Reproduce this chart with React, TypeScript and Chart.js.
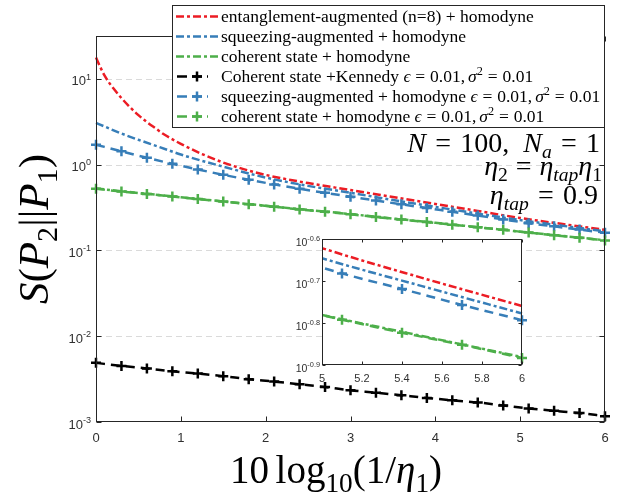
import React, { useEffect, useRef } from "react";
import { Chart, registerables } from "chart.js";
Chart.register(...registerables);

// ---------------- data ----------------
const MARK_X = [0, 0.3, 0.6, 0.9, 1.2, 1.5, 1.8, 2.1, 2.4, 2.7, 3.0, 3.3, 3.6, 3.9, 4.2, 4.5, 4.8, 5.1, 5.4, 5.7, 6.0];
const KENNEDY_Y = [0.00489, 0.00451, 0.00421, 0.00391, 0.00367, 0.00342, 0.00316, 0.00296, 0.00275, 0.00256, 0.00234, 0.0022, 0.00205, 0.00191, 0.00179, 0.00169, 0.00156, 0.00144, 0.00135, 0.00127, 0.00117];
const SQZ_NOISY_Y = [1.71, 1.429, 1.202, 1.023, 0.879, 0.762, 0.667, 0.589, 0.524, 0.469, 0.423, 0.382, 0.345, 0.312, 0.282, 0.255, 0.23, 0.208, 0.191, 0.175, 0.161];
const COH_NOISY_Y = [0.525, 0.486, 0.455, 0.426, 0.397, 0.371, 0.346, 0.323, 0.301, 0.282, 0.264, 0.245, 0.229, 0.214, 0.1995, 0.186, 0.174, 0.1614, 0.1503, 0.1406, 0.1309];

const ENT_X = [0, 0.05, 0.1, 0.15, 0.2, 0.3, 0.4, 0.5, 0.6, 0.7, 0.8, 1.0, 1.25, 1.5, 1.75, 2.0, 2.5, 3.0, 3.5, 4.0, 4.5, 5.0, 5.5, 6.0];
const ENT_Y = [17.74, 13.77, 10.96, 9.18, 7.87, 5.97, 4.68, 3.78, 3.14, 2.66, 2.26, 1.75, 1.33, 1.059, 0.881, 0.759, 0.61, 0.506, 0.419, 0.348, 0.289, 0.239, 0.203, 0.174];

const SQZ_X = [0, 0.1, 0.2, 0.3, 0.5, 0.75, 1.0, 1.5, 2.0, 2.5, 3.0, 3.5, 4.0, 4.5, 5.0, 5.5, 6.0];
const SQZ_Y = [3.069, 2.786, 2.529, 2.307, 1.95, 1.603, 1.312, 0.948, 0.708, 0.566, 0.47, 0.387, 0.322, 0.269, 0.226, 0.194, 0.167];

const COH_X = [0, 0.5, 1.0, 1.5, 2.0, 2.5, 3.0, 3.5, 4.0, 4.5, 5.0, 5.5, 6.0];
const COH_Y = [0.527, 0.4677, 0.418, 0.3724, 0.332, 0.2965, 0.2655, 0.2355, 0.21, 0.187, 0.1656, 0.1476, 0.1315];

const X_TICKS = [0, 1, 2, 3, 4, 5, 6];
const Y_TICK_EXP = [-3, -2, -1, 0, 1];
const INSET_X_TICKS = [5, 5.2, 5.4, 5.6, 5.8, 6];
const INSET_Y_EXP = [-0.9, -0.8, -0.7, -0.6];
const INSET_Y_LABELS = ["-0.9", "-0.8", "-0.7", "-0.6"];

const LEGEND_LABELS = [
  "entanglement-augmented (n=8) + homodyne",
  "squeezing-augmented + homodyne",
  "coherent state + homodyne",
  "Coherent state +Kennedy ",
  "squeezing-augmented + homodyne ",
  "coherent state + homodyne ",
];

// ---------------- style ----------------
const RED = "#ec1c24";
const BLUE = "#377eb8";
const GREEN = "#4daf4a";
const BLACK = "#000000";
const AX = "#262626";
const TICK_TXT = "#303030";
const SERIF = '"Liberation Serif", "DejaVu Serif", serif';
const SANS = '"Liberation Sans", Arial, sans-serif';
const DASHDOT = [8, 3, 3, 3];
const DASHED = [9, 6];
const LW = 2.5;

type Seg = { t?: string; it?: boolean; pos?: "sub" | "sup"; gap?: number };

function segFont(size: number, it: boolean | undefined, family: string) {
  return `${it ? "italic " : ""}${size}px ${family}`;
}
function richWidth(ctx: CanvasRenderingContext2D, segs: Seg[], size: number, family: string) {
  let w = 0;
  for (const s of segs) {
    if (s.gap) { w += s.gap * size; continue; }
    const fs = s.pos ? size * 0.7 : size;
    ctx.font = segFont(fs, s.it, family);
    w += ctx.measureText(s.t || "").width;
  }
  return w;
}
function drawRich(ctx: CanvasRenderingContext2D, segs: Seg[], x: number, y: number, size: number, family: string, align: "left" | "right" | "center", supK = 0.42) {
  const w = richWidth(ctx, segs, size, family);
  let cx = align === "left" ? x : align === "right" ? x - w : x - w / 2;
  ctx.textAlign = "left";
  ctx.textBaseline = "alphabetic";
  for (const s of segs) {
    if (s.gap) { cx += s.gap * size; continue; }
    const fs = s.pos ? size * 0.7 : size;
    ctx.font = segFont(fs, s.it, family);
    const dy = s.pos === "sub" ? size * 0.22 : s.pos === "sup" ? -size * supK : 0;
    ctx.fillText(s.t || "", cx, y + dy);
    cx += ctx.measureText(s.t || "").width;
  }
}

const pts = (xs: number[], ys: number[]) => xs.map((x, i) => ({ x, y: ys[i] }));

function makeDatasets(clip: any) {
  const lineBase = { fill: false, cubicInterpolationMode: "monotone" as const, clip, borderWidth: LW };
  const markBase = { ...lineBase, borderDash: DASHED, pointStyle: "cross" as const, pointRadius: 5, pointBorderWidth: 2.5, pointHoverRadius: 5 };
  return [
    { ...markBase, label: "c", data: pts(MARK_X, COH_NOISY_Y), borderColor: GREEN, pointBorderColor: GREEN, pointBackgroundColor: GREEN },
    { ...markBase, label: "s", data: pts(MARK_X, SQZ_NOISY_Y), borderColor: BLUE, pointBorderColor: BLUE, pointBackgroundColor: BLUE },
    { ...markBase, label: "k", data: pts(MARK_X, KENNEDY_Y), borderColor: BLACK, pointBorderColor: BLACK, pointBackgroundColor: BLACK },
    { ...lineBase, label: "g", data: pts(COH_X, COH_Y), borderColor: GREEN, borderDash: DASHDOT, pointRadius: 0 },
    { ...lineBase, label: "b", data: pts(SQZ_X, SQZ_Y), borderColor: BLUE, borderDash: DASHDOT, pointRadius: 0 },
    { ...lineBase, label: "r", data: pts(ENT_X, ENT_Y), borderColor: RED, borderDash: DASHDOT, pointRadius: 0 },
  ];
}

function drawPlus(ctx: CanvasRenderingContext2D, x: number, y: number, r: number, color: string) {
  ctx.save();
  ctx.setLineDash([]);
  ctx.strokeStyle = color;
  ctx.lineWidth = 2.5;
  ctx.beginPath();
  ctx.moveTo(x - r, y); ctx.lineTo(x + r, y);
  ctx.moveTo(x, y - r); ctx.lineTo(x, y + r);
  ctx.stroke();
  ctx.restore();
}

const mainDecor = {
  id: "mainDecor",
  beforeDatasetsDraw(chart: any) {
    const { ctx, chartArea: a } = chart;
    const y = chart.scales.y;
    ctx.save();
    ctx.strokeStyle = "#dadada";
    ctx.lineWidth = 1;
    ctx.setLineDash([6, 4]);
    for (const e of Y_TICK_EXP) {
      if (e === -3) continue;
      const py = Math.round(y.getPixelForValue(Math.pow(10, e))) + 0.5;
      ctx.beginPath(); ctx.moveTo(a.left, py); ctx.lineTo(a.right, py); ctx.stroke();
    }
    ctx.restore();
  },
  afterDatasetsDraw(chart: any) {
    const { ctx, chartArea: a } = chart;
    const x = chart.scales.x, y = chart.scales.y;
    ctx.save();
    ctx.setLineDash([]);
    ctx.strokeStyle = AX;
    ctx.lineWidth = 1;
    const L = a.left + 0.5, R = a.right - 0.5, T = a.top + 0.5, B = a.bottom - 0.5;
    ctx.strokeRect(L, T, R - L, B - T);
    ctx.beginPath();
    for (const e of Y_TICK_EXP) {
      const py = Math.round(y.getPixelForValue(Math.pow(10, e))) + 0.5;
      ctx.moveTo(L, py); ctx.lineTo(L + 5, py);
      ctx.moveTo(R, py); ctx.lineTo(R - 5, py);
    }
    for (const v of X_TICKS) {
      const px = Math.round(x.getPixelForValue(v)) + 0.5;
      ctx.moveTo(px, B); ctx.lineTo(px, B - 5);
      ctx.moveTo(px, T); ctx.lineTo(px, T + 5);
    }
    ctx.stroke();
    ctx.fillStyle = TICK_TXT;
    for (const e of Y_TICK_EXP) {
      const py = y.getPixelForValue(Math.pow(10, e));
      drawRich(ctx, [{ t: "10" }, { t: String(e), pos: "sup" }], a.left - 5, py + 6.5, 13, SANS, "right", 0.45);
    }
    ctx.font = `13px ${SANS}`;
    ctx.textAlign = "center";
    ctx.textBaseline = "alphabetic";
    for (const v of X_TICKS) {
      ctx.fillText(String(v), x.getPixelForValue(v), 441.5);
    }
    ctx.restore();
  },
  afterDraw(chart: any) {
    const { ctx } = chart;
    ctx.save();
    // legend box
    ctx.fillStyle = "#ffffff";
    ctx.fillRect(172, 5, 433, 122);
    ctx.strokeStyle = AX;
    ctx.lineWidth = 1;
    ctx.setLineDash([]);
    ctx.strokeRect(172.5, 5.5, 432, 122);
    const colors = [RED, BLUE, GREEN, BLACK, BLUE, GREEN];
    const eps: Seg[] = [{ t: "\u03f5", it: true }, { gap: 0.28 }, { t: "=" }, { gap: 0.28 }, { t: "0.01," }, { gap: 0.17 }, { t: "\u03c3", it: true }, { t: "2", pos: "sup" }, { gap: 0.28 }, { t: "=" }, { gap: 0.28 }, { t: "0.01" }];
    for (let i = 0; i < 6; i++) {
      const cy = 16.5 + i * 20;
      ctx.strokeStyle = colors[i];
      ctx.lineWidth = LW;
      if (i < 3) {
        ctx.setLineDash(DASHDOT);
        ctx.beginPath(); ctx.moveTo(176, cy); ctx.lineTo(218, cy); ctx.stroke();
      } else {
        ctx.setLineDash([10, 5]);
        ctx.beginPath(); ctx.moveTo(177, cy); ctx.lineTo(208, cy); ctx.stroke();
        drawPlus(ctx, 197, cy, 5, colors[i]);
      }
      ctx.setLineDash([]);
      ctx.fillStyle = "#000";
      const segs: Seg[] = i < 3 ? [{ t: LEGEND_LABELS[i] }] : [{ t: LEGEND_LABELS[i] }, ...eps];
      drawRich(ctx, segs, 221, cy + 5, 17.5, SERIF, "left", 0.4);
    }
    // annotations
    ctx.fillStyle = "#000";
    const AS = 28;
    drawRich(ctx, [{ t: "N", it: true }, { gap: 0.33 }, { t: "=" }, { gap: 0.33 }, { t: "100," }, { gap: 0.5 }, { t: "N", it: true }, { t: "a", it: true, pos: "sub" }, { gap: 0.33 }, { t: "=" }, { gap: 0.33 }, { t: "1" }], 600, 152, AS, SERIF, "right");
    drawRich(ctx, [{ t: "\u03b7", it: true }, { t: "2", pos: "sub" }, { gap: 0.28 }, { t: "=" }, { gap: 0.28 }, { t: "\u03b7", it: true }, { t: "tap", it: true, pos: "sub" }, { t: "\u03b7", it: true }, { t: "1", pos: "sub" }], 602, 174.5, AS, SERIF, "right");
    drawRich(ctx, [{ t: "\u03b7", it: true }, { t: "tap", it: true, pos: "sub" }, { gap: 0.33 }, { t: "=" }, { gap: 0.33 }, { t: "0.9" }], 598, 203.5, AS, SERIF, "right");
    // x title
    drawRich(ctx, [{ t: "10" }, { gap: 0.17 }, { t: "log" }, { t: "10", pos: "sub" }, { t: "(1/" }, { t: "\u03b7", it: true }, { t: "1", pos: "sub" }, { t: ")" }], 336, 483, 39, SERIF, "center");
    // y title
    ctx.translate(37, 229);
    ctx.rotate(-Math.PI / 2);
    drawRich(ctx, [{ t: "S", it: true }, { t: "(" }, { t: "P", it: true }, { t: "2", pos: "sub" }, { t: "||" }, { t: "P", it: true }, { t: "1", pos: "sub" }, { t: ")" }], 0, 11, 43, SERIF, "center");
    ctx.restore();
  },
};

const insetDecor = {
  id: "insetDecor",
  beforeDraw(chart: any) {
    const { ctx, chartArea: a } = chart;
    ctx.save();
    ctx.fillStyle = "#ffffff";
    ctx.fillRect(a.left, a.top, a.right - a.left, a.bottom - a.top);
    ctx.restore();
  },
  afterDatasetsDraw(chart: any) {
    const { ctx, chartArea: a } = chart;
    const x = chart.scales.x, y = chart.scales.y;
    ctx.save();
    ctx.setLineDash([]);
    ctx.strokeStyle = AX;
    ctx.lineWidth = 1;
    const L = a.left + 0.5, R = a.right - 0.5, T = a.top + 0.5, B = a.bottom - 0.5;
    ctx.strokeRect(L, T, R - L, B - T);
    ctx.beginPath();
    for (const e of INSET_Y_EXP) {
      const py = Math.round(y.getPixelForValue(Math.pow(10, e))) + 0.5;
      ctx.moveTo(L, py); ctx.lineTo(L + 3, py);
      ctx.moveTo(R, py); ctx.lineTo(R - 3, py);
    }
    for (const v of INSET_X_TICKS) {
      const px = Math.round(x.getPixelForValue(v)) + 0.5;
      ctx.moveTo(px, B); ctx.lineTo(px, B - 3);
      ctx.moveTo(px, T); ctx.lineTo(px, T + 3);
    }
    ctx.stroke();
    ctx.fillStyle = TICK_TXT;
    INSET_Y_EXP.forEach((e, i) => {
      const py = y.getPixelForValue(Math.pow(10, e));
      drawRich(ctx, [{ t: "10" }, { t: INSET_Y_LABELS[i], pos: "sup" }], a.left - 2, py + 6.5, 10.5, SANS, "right", 0.45);
    });
    ctx.font = `11px ${SANS}`;
    ctx.textAlign = "center";
    ctx.textBaseline = "alphabetic";
    for (const v of INSET_X_TICKS) {
      ctx.fillText(v === 5 || v === 6 ? String(v) : v.toFixed(1), x.getPixelForValue(v), 154);
    }
    ctx.restore();
  },
};

export default function App() {
  const mainRef = useRef<HTMLCanvasElement>(null);
  const insetRef = useRef<HTMLCanvasElement>(null);
  useEffect(() => {
    const main = new Chart(mainRef.current as HTMLCanvasElement, {
      type: "line",
      data: { datasets: makeDatasets(false) as any },
      options: {
        responsive: false,
        animation: false,
        devicePixelRatio: 1,
        layout: { padding: { left: 96, right: 13, top: 36, bottom: 74 } },
        plugins: { legend: { display: false }, tooltip: { enabled: false } },
        events: [],
        scales: {
          x: { type: "linear", min: 0, max: 6, display: false },
          y: { type: "logarithmic", min: 0.001, max: Math.pow(10, 1.5), display: false },
        },
      } as any,
      plugins: [mainDecor],
    });
    const inset = new Chart(insetRef.current as HTMLCanvasElement, {
      type: "line",
      data: { datasets: makeDatasets({ left: 0, top: 0, right: 8, bottom: 8 }) as any },
      options: {
        responsive: false,
        animation: false,
        devicePixelRatio: 1,
        layout: { padding: { left: 42, right: 8, top: 11, bottom: 28 } },
        plugins: { legend: { display: false }, tooltip: { enabled: false } },
        events: [],
        scales: {
          x: { type: "linear", min: 5, max: 6, display: false },
          y: { type: "logarithmic", min: Math.pow(10, -0.9), max: Math.pow(10, -0.6), display: false },
        },
      } as any,
      plugins: [insetDecor],
    });
    return () => { main.destroy(); inset.destroy(); };
  }, []);
  return (
    <div style={{ position: "absolute", left: 0, top: 0, width: 618, height: 496, background: "#ffffff", overflow: "hidden" }}>
      <canvas ref={mainRef} width={618} height={496} style={{ position: "absolute", left: 0, top: 0, display: "block" }} />
      <canvas ref={insetRef} width={250} height={165} style={{ position: "absolute", left: 280, top: 228, display: "block" }} />
    </div>
  );
}
